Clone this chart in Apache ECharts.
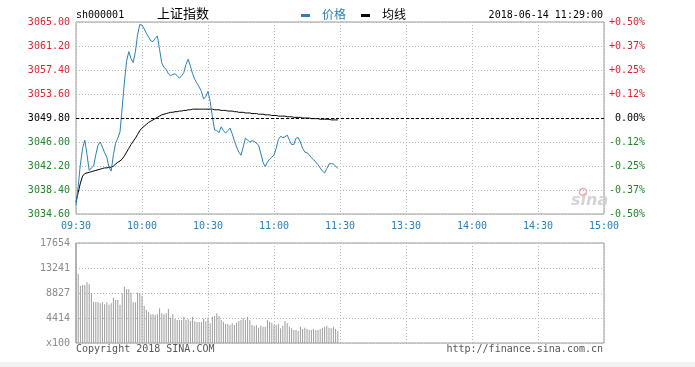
<!DOCTYPE html>
<html>
<head>
<meta charset="utf-8">
<script src="https://cdn.jsdelivr.net/npm/echarts@6/dist/echarts.min.js"></script>
<style>
html,body{margin:0;padding:0;background:#fff;}
#main{width:695px;height:367px;}
</style>
</head>
<body>
<div id="main"></div>
<script>
// ---- data ----
const symbol = 'sh000001';
const indexName = '上证指数';
const dateTime = '2018-06-14 11:29:00';
const prevClose = 3049.80;
const priceMin = 3034.60, priceMax = 3065.00, priceStep = 3.80;
const timeTicks = ['09:30','10:00','10:30','11:00','11:30','13:30','14:00','14:30','15:00'];
const volumeMax = 17654;

// price per minute 09:30 .. 11:29
const price = [
3036.0,3039.0,3042.5,3045.0,3046.3,3044.0,3041.5,3041.9,3042.2,3044.0,
3045.5,3046.0,3045.2,3044.3,3043.6,3042.0,3041.4,3044.0,3045.8,3046.6,
3047.6,3051.5,3055.5,3058.8,3060.3,3059.2,3058.6,3060.3,3063.0,3064.6,
3064.5,3063.9,3063.2,3062.6,3062.0,3061.9,3062.4,3062.8,3060.6,3058.5,
3057.8,3057.5,3056.8,3056.5,3056.7,3056.8,3056.5,3056.1,3056.5,3057.0,
3058.3,3059.1,3058.0,3056.8,3055.9,3055.3,3054.7,3054.0,3052.8,3053.2,
3054.0,3052.4,3050.0,3047.9,3047.8,3047.5,3048.4,3047.8,3047.4,3047.8,
3048.2,3047.3,3046.2,3045.2,3044.4,3043.9,3045.2,3046.6,3046.3,3046.0,
3046.2,3046.1,3045.8,3045.5,3044.2,3042.8,3042.1,3042.8,3043.3,3043.6,
3043.9,3045.0,3046.4,3046.9,3046.7,3046.8,3047.1,3046.3,3045.6,3045.6,
3046.6,3046.7,3046.0,3045.0,3044.4,3044.3,3044.0,3043.5,3043.2,3042.8,
3042.4,3041.9,3041.4,3041.1,3041.8,3042.5,3042.6,3042.5,3042.2,3041.8
];

// average price per minute
const avgPrice = [
3036.5,3038.0,3039.5,3040.6,3041.0,3041.1,3041.2,3041.3,3041.4,3041.5,
3041.6,3041.7,3041.8,3041.9,3041.9,3042.0,3042.0,3042.2,3042.5,3042.8,
3043.0,3043.3,3043.8,3044.4,3045.0,3045.6,3046.1,3046.6,3047.2,3047.8,
3048.2,3048.5,3048.8,3049.1,3049.3,3049.5,3049.7,3049.9,3050.1,3050.3,
3050.4,3050.5,3050.6,3050.7,3050.7,3050.8,3050.8,3050.9,3050.9,3051.0,
3051.0,3051.1,3051.1,3051.2,3051.2,3051.2,3051.2,3051.2,3051.2,3051.2,
3051.2,3051.2,3051.2,3051.1,3051.1,3051.1,3051.0,3051.0,3051.0,3050.9,
3050.9,3050.9,3050.8,3050.8,3050.7,3050.7,3050.7,3050.6,3050.6,3050.6,
3050.5,3050.5,3050.5,3050.4,3050.4,3050.4,3050.3,3050.3,3050.3,3050.2,
3050.2,3050.2,3050.1,3050.1,3050.1,3050.1,3050.0,3050.0,3050.0,3049.9,
3049.9,3049.9,3049.9,3049.8,3049.8,3049.8,3049.8,3049.7,3049.7,3049.7,
3049.7,3049.6,3049.6,3049.6,3049.6,3049.6,3049.5,3049.5,3049.5,3049.5
];

// volume (x100) per minute
const volume = [
17654,12181,10063,10239,10239,10716,10363,8827,7291,7238,
7238,7009,7185,6832,7185,6762,7009,7997,7591,7591,
6762,8774,9939,9480,9480,8880,7185,7185,8880,8827,
8297,6585,5826,5526,5067,5067,4943,5067,6126,5243,
5067,5243,6002,4466,5067,4237,4060,4060,4060,4643,
4060,4184,3884,4643,3831,3707,3707,3707,4290,3831,
4537,3478,4643,4767,5243,4767,4060,3760,3354,3354,
3178,3478,3178,3584,3884,4060,4361,4060,4643,4060,
3178,3001,3178,2701,3054,2878,2878,4060,3760,3584,
3178,3178,3301,2595,3054,3884,3478,2878,2595,2295,
2295,2118,2878,2472,2701,2472,2295,2295,2472,2295,
2295,2472,2701,2878,3054,2701,2595,2878,2472,2118
];

// ---- minute categories (09:30-11:30, 13:01-15:00) ----
function pad(n){return (n<10?'0':'')+n;}
const minutes = [];
for (let t = 9*60+30; t <= 11*60+30; t++) minutes.push(pad(Math.floor(t/60))+':'+pad(t%60));
for (let t = 13*60+1; t <= 15*60; t++) minutes.push(pad(Math.floor(t/60))+':'+pad(t%60));

const RED = '#d8262e', GREEN = '#21862a', BLUE = '#2b80b6';
const MONO = '"DejaVu Sans Mono", "Liberation Mono", monospace';

const tickIdx = i => i % 30 === 0;
const half = (priceMax - priceMin) / 2;

function priceLabel(v){ return (prevClose + v).toFixed(2); }
function pctLabel(v){
  const p = v / prevClose * 100;
  if (Math.abs(p) < 1e-6) return ' 0.00%';
  return (p > 0 ? '+' : '') + p.toFixed(2) + '%';
}
function lblColor(v){
  const n = parseFloat(v);
  if (Math.abs(n) < 1e-6) return '#000';
  return n > 0 ? RED : GREEN;
}

const chart = echarts.init(document.getElementById('main'), null, {renderer:'canvas'});
chart.setOption({
  animation: false,
  backgroundColor: '#fff',
  grid: [
    {left:76, top:22, width:528, height:192, show:true, borderColor:'#9a9a9a', borderWidth:1, backgroundColor:'transparent'},
    {left:76, top:243, width:528, height:100, show:true, borderColor:'#9a9a9a', borderWidth:1, backgroundColor:'transparent'}
  ],
  xAxis: [
    {type:'category', gridIndex:0, data:minutes, boundaryGap:false,
     axisLine:{show:false}, axisTick:{show:false},
     axisLabel:{interval:(i)=>tickIdx(i), color:BLUE, fontFamily:MONO, fontSize:10, margin:7,
                formatter:(v)=>v, showMinLabel:true, showMaxLabel:true},
     splitLine:{show:true, interval:(i)=>tickIdx(i), lineStyle:{type:[1,2], color:'#b5b5b5'}}},
    {type:'category', gridIndex:1, data:minutes, boundaryGap:false,
     axisLine:{show:false}, axisTick:{show:false}, axisLabel:{show:false},
     splitLine:{show:true, interval:(i)=>tickIdx(i), lineStyle:{type:[1,2], color:'#b5b5b5'}}}
  ],
  yAxis: [
    {type:'value', gridIndex:0, min:-half, max:half, interval:priceStep,
     axisLine:{show:false}, axisTick:{show:false},
     axisLabel:{formatter:priceLabel, color:lblColor, fontFamily:MONO, fontSize:10, margin:6},
     splitLine:{show:true, lineStyle:{type:[1,2], color:'#b5b5b5'}}},
    {type:'value', gridIndex:0, position:'right', min:-half, max:half, interval:priceStep,
     axisLine:{show:false}, axisTick:{show:false},
     axisLabel:{formatter:pctLabel, color:lblColor, fontFamily:MONO, fontSize:10, margin:5},
     splitLine:{show:false}},
    {type:'value', gridIndex:1, min:0, max:volumeMax, interval:volumeMax/4,
     axisLine:{show:false}, axisTick:{show:false},
     axisLabel:{formatter:(v)=> v===0 ? 'x100' : String(Math.round(v)), color:'#8a8a8a', fontFamily:MONO, fontSize:10, margin:6},
     splitLine:{show:true, lineStyle:{type:[1,2], color:'#b5b5b5'}}}
  ],
  series: [
    {name:'成交量', type:'bar', xAxisIndex:1, yAxisIndex:2, data:volume, barWidth:1,
     itemStyle:{color:'#9c9c9c'}, silent:true},
    {name:'均线', type:'line', xAxisIndex:0, yAxisIndex:0,
     data:avgPrice.map(p => +(p - prevClose).toFixed(2)),
     showSymbol:false, symbol:'none', lineStyle:{color:'#000', width:1}, silent:true},
    {name:'价格', type:'line', xAxisIndex:0, yAxisIndex:0,
     data:price.map(p => +(p - prevClose).toFixed(2)),
     showSymbol:false, symbol:'none', lineStyle:{color:BLUE, width:1}, silent:true,
     markLine:{silent:true, symbol:'none', label:{show:false},
               lineStyle:{color:'#000', type:[3,2], width:1},
               data:[{yAxis:0}]}}
  ],
  graphic: [
    {type:'rect', shape:{x:0,y:362,width:695,height:5}, style:{fill:'#f2f2f2'}, z:-10},
    {type:'text', left:76, top:10, style:{text:symbol, font:'10px '+MONO, fill:'#000'}},
    {type:'text', left:157, top:7, style:{text:indexName, font:'13px "Noto Sans CJK SC"', fill:'#000'}},
    {type:'rect', shape:{x:301,y:14,width:9,height:3}, style:{fill:BLUE}},
    {type:'text', left:322, top:8, style:{text:'价格', font:'12px "Noto Sans CJK SC"', fill:BLUE}},
    {type:'rect', shape:{x:361,y:14,width:9,height:3}, style:{fill:'#000'}},
    {type:'text', left:382, top:8, style:{text:'均线', font:'12px "Noto Sans CJK SC"', fill:'#000'}},
    {type:'text', right:92, top:10, style:{text:dateTime, font:'10px '+MONO, fill:'#000'}},
    {type:'text', left:76, top:344, style:{text:'Copyright 2018 SINA.COM', font:'10px '+MONO, fill:'#555'}},
    {type:'text', right:92, top:344, style:{text:'http://finance.sina.com.cn', font:'10px '+MONO, fill:'#555'}},
    {type:'text', left:571, top:193, style:{text:'sina', font:'italic bold 16px "DejaVu Sans"', fill:'#d4d4d4'}},
    {type:'circle', shape:{cx:583,cy:192,r:3.5}, style:{fill:'none', stroke:'#f0a8a8', lineWidth:1.5}}
  ]
});
</script>
</body>
</html>
